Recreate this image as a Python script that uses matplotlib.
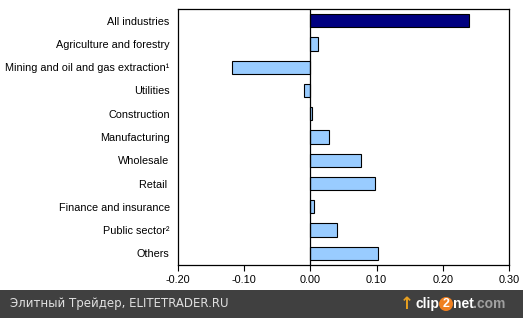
import matplotlib
matplotlib.use("Agg")
import matplotlib.pyplot as plt
from matplotlib.patches import Rectangle

# data
categories = ["All industries", "Agriculture and forestry", "Mining and oil and gas extraction\u00b9",
              "Utilities", "Construction", "Manufacturing", "Wholesale", "Retail ",
              "Finance and insurance", "Public sector\u00b2", "Others"]
values = [0.240, 0.012, -0.118, -0.010, 0.003, 0.028, 0.076, 0.097, 0.005, 0.040, 0.102]
xticks = [-0.20, -0.10, 0.00, 0.10, 0.20, 0.30]

plt.rcParams['font.family'] = ['Liberation Sans', 'DejaVu Sans']

fig = plt.figure(figsize=(5.23, 3.18), dpi=100)
fig.patch.set_facecolor("white")
ax = fig.add_axes([178/523, 1 - 265/318, (509 - 178)/523, (265 - 9)/318])

colors = ["#000080"] + ["#99ccff"] * (len(values) - 1)
ypos = list(range(len(categories)))
ax.barh(ypos, values, height=0.57, color=colors, edgecolor="black", linewidth=0.8, zorder=2)
ax.axvline(0, color="black", linewidth=0.9, zorder=3)

ax.set_xlim(-0.2, 0.3)
ax.set_ylim(len(categories) - 0.5, -0.5)
ax.set_yticks(ypos)
ax.set_yticklabels(categories, fontsize=7.8)
ax.tick_params(axis="y", length=0, pad=6)
ax.set_xticks(xticks)
ax.set_xticklabels(["%.2f" % t for t in xticks], fontsize=7.8)
ax.tick_params(axis="x", length=4, width=0.8, direction="out", pad=3)
for s in ax.spines.values():
    s.set_linewidth(0.9)

# footer band
fig.patches.append(Rectangle((0, 0), 1, 28/318, transform=fig.transFigure,
                             facecolor="#404040", edgecolor="none", zorder=0))
fig.text(10/523, 14/318, "\u042d\u043b\u0438\u0442\u043d\u044b\u0439 \u0422\u0440\u0435\u0439\u0434\u0435\u0440, ELITETRADER.RU",
         color="#e0e0e0", fontsize=8.5, va="center", ha="left", family="DejaVu Sans")
fig.text(407/523, 14/318, "\u2191", color="#e8a020", fontsize=12, va="center", ha="center",
         fontweight="bold", family="DejaVu Sans")
fig.text(439/523, 14/318, "clip", color="white", fontsize=10, va="center", ha="right", fontweight="bold")
fig.text(446/523, 14/318, "2", color="white", fontsize=9, va="center", ha="center", fontweight="bold",
         bbox=dict(boxstyle="circle,pad=0.08", facecolor="#f08020", edgecolor="none"))
fig.text(453/523, 14/318, "net", color="white", fontsize=10, va="center", ha="left", fontweight="bold")
fig.text(473/523, 14/318, ".com", color="#a0a0a0", fontsize=10, va="center", ha="left", fontweight="bold")

fig.savefig("out.png", dpi=100)
